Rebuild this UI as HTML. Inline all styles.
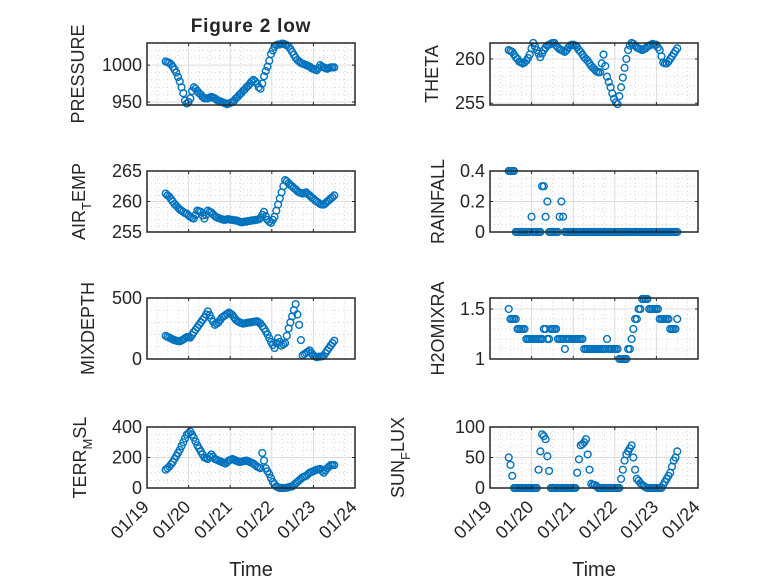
<!DOCTYPE html>
<html><head><meta charset="utf-8"><style>
html,body{margin:0;padding:0;background:#fff;}
svg text{font-family:"Liberation Sans","DejaVu Sans",sans-serif;fill:#262626;}
</style></head><body>
<svg id="fig" width="778" height="583" viewBox="0 0 778 583" xmlns="http://www.w3.org/2000/svg">
<rect width="778" height="583" fill="#fff"/>
<text x="251" y="32" font-size="19" font-weight="bold" letter-spacing="0.8" text-anchor="middle">Figure 2 low</text>
</svg>
<script>
const xTickLabels = ["01/19","01/20","01/21","01/22","01/23","01/24"];
const tStart = 19.45, tStep = 0.0422;
const pressure = [1005,1004,1003,1001,998,994,990,984,978,970,962,952,948,950,955,965,970,968,965,962,960,957,955,955,955,956,957,956,955,953,952,951,950,949,948,947,948,949,950,952,955,957,960,962,965,967,970,972,975,978,980,978,975,970,968,975,985,992,998,1006,1015,1020,1025,1027,1028,1028,1029,1029,1028,1027,1025,1022,1018,1014,1010,1007,1005,1003,1002,1001,1000,999,998,996,995,994,993,996,1000,998,997,996,995,996,997,997,997];
const theta = [261,260.9,260.8,260.5,260.2,260,259.7,259.6,259.5,259.6,259.8,260.1,260.5,261.2,261.8,261.4,261,260.6,260.2,260.6,261,261.3,261.5,261.6,261.7,261.8,261.8,261.5,261.3,261.1,261,260.9,260.8,261,261.3,261.5,261.6,261.6,261.5,261.3,261,260.8,260.5,260.2,260,259.8,259.5,259.2,259,258.8,258.6,258.5,258.5,259.5,260.5,259.2,258,257.4,256.8,256.1,255.5,255.1,254.9,255.8,256.8,257.9,259,260,261,261.5,261.8,261.7,261.5,261.3,261.2,261.1,261,261.1,261.2,261.4,261.5,261.6,261.7,261.6,261.6,261.3,261,260.3,259.6,259.5,259.5,259.7,260,260.3,260.6,260.9,261.2];
const airTemp = [261.3,261,260.8,260.4,260,259.6,259.3,259,258.7,258.5,258.3,258.1,258,257.7,257.5,257.3,257.2,257.8,258.5,258.4,258.3,257.7,257.2,257.8,258.5,258.3,258.2,257.9,257.6,257.4,257.3,257.2,257.1,257,257,257.1,257.1,257,257,256.9,256.9,256.8,256.7,256.6,256.6,256.7,256.7,256.8,256.8,256.9,256.9,257,257,257.1,257.3,257.8,258.3,257.6,257,256.7,256.5,257,257.5,258.5,259.5,260.5,261.5,262.5,263.5,263.3,263,262.7,262.5,262.2,262,261.7,261.5,261.4,261.3,261.4,261.5,261.2,261,260.7,260.5,260.2,260,259.8,259.6,259.5,259.5,259.7,260,260.2,260.5,260.7,261];
const rainfall = [0.4,0.4,0.4,0.4,0,0,0,0,0,0,0,0,0,0.1,0,0,0,0,0,0.3,0.3,0.1,0.2,0,0,0,0,0,0,0.1,0.2,0.1,0,0,0,0,0,0,0,0,0,0,0,0,0,0,0,0,0,0,0,0,0,0,0,0,0,0,0,0,0,0,0,0,0,0,0,0,0,0,0,0,0,0,0,0,0,0,0,0,0,0,0,0,0,0,0,0,0,0,0,0,0,0,0,0,0];
const mixDepth = [190,182,175,168,160,155,150,147,145,152,160,170,180,178,175,198,220,240,260,280,300,320,340,365,390,360,330,305,280,290,300,320,340,350,360,370,380,370,360,340,320,310,300,295,290,292,295,298,300,302,305,308,310,300,290,270,250,225,200,170,140,115,90,130,170,140,110,120,130,190,250,300,350,400,450,365,280,155,30,40,50,60,70,50,30,22,15,18,20,22,25,48,70,90,110,130,150];
const h2oMix = [1.5,1.4,1.4,1.4,1.4,1.3,1.3,1.3,1.3,1.3,1.2,1.2,1.2,1.2,1.2,1.2,1.2,1.2,1.2,1.2,1.3,1.3,1.2,1.2,1.3,1.3,1.3,1.3,1.2,1.2,1.2,1.2,1.1,1.2,1.2,1.2,1.2,1.2,1.2,1.2,1.2,1.2,1.2,1.1,1.1,1.1,1.1,1.1,1.1,1.1,1.1,1.1,1.1,1.1,1.1,1.1,1.2,1.1,1.1,1.1,1.1,1.1,1.1,1.0,1.0,1.0,1.0,1.0,1.1,1.1,1.2,1.3,1.4,1.4,1.5,1.5,1.6,1.6,1.6,1.6,1.5,1.5,1.5,1.5,1.5,1.5,1.4,1.4,1.4,1.4,1.4,1.4,1.3,1.3,1.3,1.3,1.4];
const terrMsl = [120,130,140,155,170,190,210,230,250,275,300,325,350,360,370,350,330,305,280,260,240,220,200,195,190,205,220,205,190,185,180,175,170,165,160,170,180,185,190,185,180,175,170,172,175,178,180,175,170,165,160,150,140,135,130,230,180,130,110,90,65,40,25,10,5,0,0,0,0,2,5,8,10,20,30,40,50,60,70,75,80,90,100,105,110,115,120,122,125,112,100,115,130,140,150,150,150];
const sunFlux = [50,38,20,0,0,0,0,0,0,0,0,0,0,0,0,0,0,30,60,88,85,80,52,28,0,0,0,0,0,0,0,0,0,0,0,0,0,0,0,25,47,70,72,75,80,55,30,7,5,5,3,0,0,0,0,0,0,0,0,0,0,0,0,0,15,30,45,55,60,65,70,50,30,15,12,8,5,3,1,0,0,0,0,0,0,0,0,0,5,10,15,20,25,35,45,50,60];

const NS = "http://www.w3.org/2000/svg";
const svg = document.getElementById('fig');
function mk(tag, attrs, parent){ const e=document.createElementNS(NS,tag); for(const k in attrs) e.setAttribute(k,attrs[k]); (parent||svg).appendChild(e); return e; }

const cols = [{x0:147,x1:355},{x0:490,x1:698}];
const rows = [{y0:43,y1:105},{y0:171,y1:232},{y0:298,y1:359},{y0:427,y1:488}];
const plots = [
 {name:'pressure',data:pressure,col:0,row:0,ymin:946,ymax:1030,ticks:[950,1000],minor:10,label:['PRESSURE'],lx:84},
 {name:'theta',data:theta,col:1,row:0,ymin:254.8,ymax:261.8,ticks:[255,260],minor:1,label:['THETA'],lx:438},
 {name:'air-temp',data:airTemp,col:0,row:1,ymin:255,ymax:265,ticks:[255,260,265],minor:1,label:['AIR','T','EMP'],lx:85},
 {name:'rainfall',data:rainfall,col:1,row:1,ymin:0,ymax:0.4,ticks:[0,0.2,0.4],minor:0.05,label:['RAINFALL'],lx:444},
 {name:'mixdepth',data:mixDepth,col:0,row:2,ymin:0,ymax:500,ticks:[0,500],minor:100,label:['MIXDEPTH'],lx:94},
 {name:'h2omixra',data:h2oMix,col:1,row:2,ymin:1,ymax:1.61,ticks:[1,1.5],minor:0.1,label:['H2OMIXRA'],lx:444},
 {name:'terr-msl',data:terrMsl,col:0,row:3,ymin:0,ymax:400,ticks:[0,200,400],minor:50,label:['TERR','M','SL'],lx:86},
 {name:'sun-flux',data:sunFlux,col:1,row:3,ymin:0,ymax:100,ticks:[0,50,100],minor:10,label:['SUN','F','LUX'],lx:404}
];

plots.forEach(p=>{
  const c=cols[p.col], r=rows[p.row];
  const g = mk('g',{});
  
  
  const xs = d => c.x0 + (d-19)/5*(c.x1-c.x0);
  const ys = v => r.y1 - (v-p.ymin)/(p.ymax-p.ymin)*(r.y1-r.y0);
  mk('rect',{x:c.x0,y:r.y0,width:c.x1-c.x0,height:r.y1-r.y0,fill:'#fff'},g);
  for(let d=19; d<24; d+=0.25){ if(Math.abs(d-Math.round(d))<1e-6) continue;
    mk('line',{x1:xs(d),x2:xs(d),y1:r.y0,y2:r.y1,stroke:'#c8c8c8','stroke-width':0.7,'stroke-dasharray':'1,3'},g); }
  const m0 = Math.ceil(p.ymin/p.minor-1e-9);
  for(let k=m0; k*p.minor<=p.ymax+1e-9; k++){ const v=k*p.minor;
    if(p.ticks.some(t=>Math.abs(t-v)<1e-9)) continue;
    mk('line',{x1:c.x0,x2:c.x1,y1:ys(v),y2:ys(v),stroke:'#c8c8c8','stroke-width':0.7,'stroke-dasharray':'1,3'},g); }
  for(let d=20; d<24; d++) mk('line',{x1:xs(d),x2:xs(d),y1:r.y0,y2:r.y1,stroke:'#dcdcdc','stroke-width':1},g);
  p.ticks.forEach(t=>mk('line',{x1:c.x0,x2:c.x1,y1:ys(t),y2:ys(t),stroke:'#dcdcdc','stroke-width':1},g));
  p.data.forEach((v,i)=>{
    const t = tStart + i*tStep;
    const pt = mk('circle',{cx:xs(t),cy:ys(v),r:3.4,fill:'none',stroke:'#0072BD','stroke-width':1.4},g);
    
    
  });
  mk('rect',{x:c.x0,y:r.y0,width:c.x1-c.x0,height:r.y1-r.y0,fill:'none',stroke:'#262626','stroke-width':1.5},g);
  for(let d=19; d<=24; d++){
    mk('line',{x1:xs(d),x2:xs(d),y1:r.y1,y2:r.y1-3,stroke:'#262626','stroke-width':1},g);
    mk('line',{x1:xs(d),x2:xs(d),y1:r.y0,y2:r.y0+3,stroke:'#262626','stroke-width':1},g);
  }
  p.ticks.forEach(t=>{
    mk('line',{x1:c.x0,x2:c.x0+3,y1:ys(t),y2:ys(t),stroke:'#262626','stroke-width':1},g);
    mk('line',{x1:c.x1,x2:c.x1-3,y1:ys(t),y2:ys(t),stroke:'#262626','stroke-width':1},g);
    const tl = mk('text',{x:c.x0-5,y:ys(t)+6,'font-size':18,'text-anchor':'end'},g);
    tl.textContent = String(t);
    
    
  });
  const cy=(r.y0+r.y1)/2;
  const lab = mk('text',{x:0,y:0,'font-size':18,'text-anchor':'middle',transform:`translate(${p.lx},${cy}) rotate(-90)`},g);
  
  
  if(p.label.length===1){ lab.textContent=p.label[0]; }
  else {
    const a=mk('tspan',{},lab); a.textContent=p.label[0];
    const b=mk('tspan',{dy:6,'font-size':13},lab); b.textContent=p.label[1];
    const cc=mk('tspan',{dy:-6},lab); cc.textContent=p.label[2];
  }
  if(p.row===3){
    xTickLabels.forEach((s,i)=>{
      const tx=xs(19+i);
      const el=mk('text',{x:0,y:0,'font-size':18,'text-anchor':'end',transform:`translate(${tx+3},${r.y1+20}) rotate(-45)`},g);
      el.textContent=s;
      
      
    });
    const xl=mk('text',{x:(c.x0+c.x1)/2,y:576,'font-size':20,'text-anchor':'middle'},g);
    xl.textContent='Time';
    
    
  }
});
</script>
</body></html>
